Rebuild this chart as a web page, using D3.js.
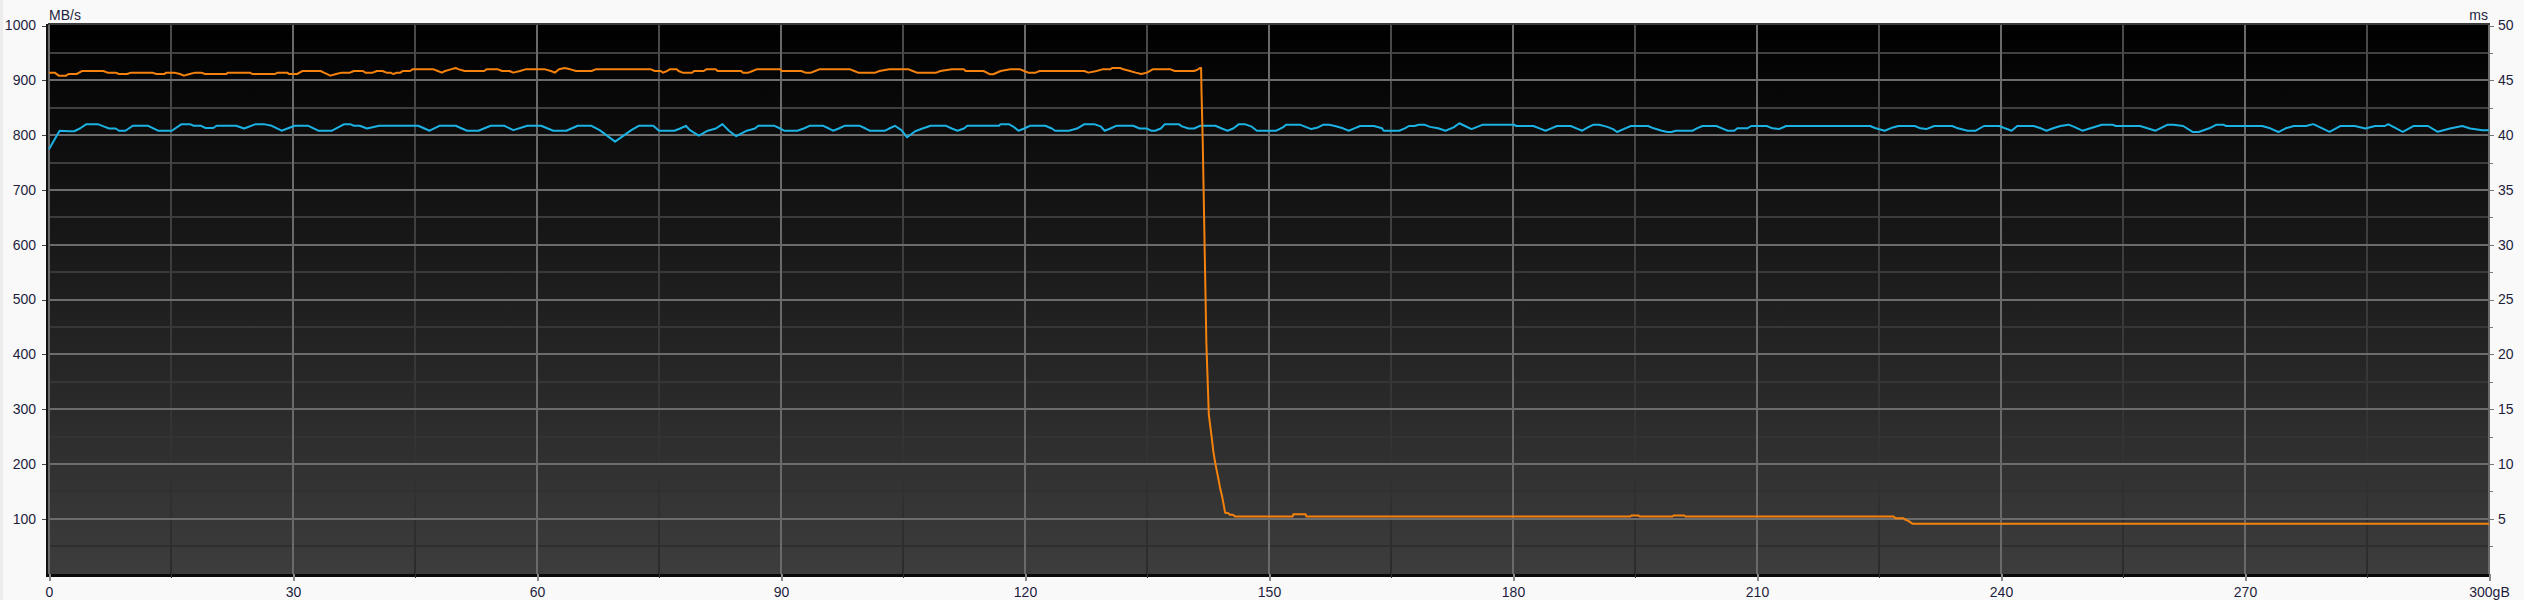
<!DOCTYPE html>
<html><head><meta charset="utf-8">
<script src="https://cdn.jsdelivr.net/npm/d3@7"></script>
<style>
html,body{margin:0;padding:0;background:#f9f9f9;}
svg{display:block;}
text{font-family:"Liberation Sans",Arial,sans-serif;font-size:14px;fill:#1e1e3e;}
</style></head>
<body>
<svg id="chart" width="2524" height="600"></svg>
<script>
// ---- data ----
const speedUnit = "MB/s";
const accessUnit = "ms";
const xTickValues = [0,30,60,90,120,150,180,210,240,270,300];
const xTickLabels = ["0","30","60","90","120","150","180","210","240","270","300gB"];
const leftTickValues = [100,200,300,400,500,600,700,800,900,1000];
const rightTickValues = [5,10,15,20,25,30,35,40,45,50];

// transfer rate (MB/s, left axis) vs position (gB)
const speedGB = [0,0.7,1.2,2.1,2.4,3.4,4.1,6.7,7.2,8.2,8.6,9.6,10.1,12.7,13.2,14.2,14.4,15.4,16.1,16.6,17.3,18.0,18.7,19.2,21.8,22.0,24.7,25.0,27.8,28.1,29.3,29.5,30.5,31.2,33.4,33.8,34.6,35.3,36.0,37.0,37.5,38.6,38.9,39.8,40.3,41.0,41.5,42.0,42.3,42.8,43.2,43.5,44.4,44.7,47.3,47.8,48.3,48.7,49.4,50.0,50.4,51.1,53.5,53.8,55.2,55.7,56.6,57.1,57.9,58.6,61.0,61.7,62.2,62.7,63.4,64.1,64.8,66.7,67.2,74.0,74.5,75.2,75.5,76.0,76.3,77.2,77.4,77.9,79.1,79.3,80.5,80.8,82.0,82.2,85.1,85.3,86.0,86.5,87.0,89.9,90.1,92.5,93.0,93.7,94.2,94.7,98.5,99.0,99.5,101.6,102.1,103.3,105.7,106.2,106.7,109.1,109.6,111.0,112.5,112.7,114.9,115.3,115.7,116.1,117.0,118.2,119.4,119.9,120.4,121.3,121.8,127.3,127.8,128.8,129.5,130.5,130.7,131.7,132.1,132.9,133.6,134.3,135.0,135.7,137.9,138.4,140.8,141.3,141.5,141.65,141.7,141.85,142.3,142.6,143.0,143.16,143.4,143.6,143.8,144.0,144.2,144.4,144.6,145.0,145.2,145.6,145.8,152.9,153.0,154.5,154.6,194.4,194.6,195.4,195.6,199.6,199.8,201.0,201.2,226.8,227.0,228.0,228.2,228.6,229.1,300];
const speedMBs = [914,914,908.5,908.5,911.5,911.5,917,917,914,914,911.5,911.5,914,914,911.5,911.5,914,914,911.5,908.5,911.5,914,914,911.5,911.5,914,914,911.5,911.5,914,914,911.5,911.5,917,917,914,908.5,911.5,914,914,917,917,914,914,917,917,914,914,911.5,914,914,917,917,920,920,917,914,917,920,922.5,920,917,917,920,920,917,917,914,917,920,920,917,914,920,922.5,920,917,917,920,920,917,917,914,917,920,920,917,914,914,917,917,920,920,917,917,914,914,917,920,920,917,917,914,914,917,920,920,917,914,914,917,920,920,917,914,914,917,920,920,917,917,914,911,911,917,920,920,917,914,914,917,917,914,917,920,920,922.5,922.5,920,917,914,911.5,914,920,920,917,917,920,922.5,922.5,880,790,420,290,243,222,201,186,171,155,143,128,111,110,107,107,104,104,108,108,104,104,106,106,104,104,106,106,104,104,101,101,98.5,96,91,91];

// access time (ms, right axis) vs position (gB)
const accessGB = [0,1.3,2.5,3.1,3.8,4.6,6.0,6.7,7.4,8.2,8.6,9.4,10.3,12.2,13.4,15.1,16.3,17.3,17.8,18.7,19.2,20.2,20.6,23.0,24.0,25.4,26.4,27.4,28.6,30.2,31.9,33.1,34.8,36.3,37.0,37.5,38.2,39.1,40.6,45.4,46.8,48.0,50.0,51.4,52.8,54.3,56.0,57.1,58.8,60.5,62.0,63.6,65.0,66.7,67.7,69.6,71.6,72.5,74.3,75.0,76.9,77.6,78.3,78.8,79.9,81.0,82.0,82.8,83.6,84.5,85.8,86.8,87.2,89.2,89.9,90.4,92.0,92.8,93.5,95.2,95.9,96.4,97.1,97.8,99.7,100.4,100.9,102.8,103.3,104.0,104.8,105.5,106.5,107.4,108.4,110.3,111.0,111.7,112.5,112.9,116.8,117.0,118.0,118.5,119.2,119.9,120.6,122.5,123.3,123.7,125.4,126.4,127.3,128.5,129.3,129.8,130.5,131.2,133.3,134.1,135.0,135.5,136.0,136.7,137.2,138.9,139.3,140.1,140.8,141.5,143.4,144.2,144.9,145.6,146.3,147.0,147.8,148.5,150.9,151.7,152.1,153.8,154.5,155.2,156.0,156.7,157.4,158.1,159.1,159.8,160.5,161.2,162.9,163.9,164.1,166.0,166.7,167.2,167.9,168.4,169.1,169.8,170.8,171.7,172.7,173.4,174.1,174.9,175.6,176.3,180.1,180.4,182.5,183.5,184.0,184.7,185.4,187.1,187.8,188.5,189.2,189.9,190.6,191.6,192.3,192.8,193.8,194.5,196.6,197.3,198.3,199.0,199.5,200.0,202.1,202.6,203.3,205.0,205.7,206.4,207.2,207.6,208.8,209.3,211.2,211.9,212.7,213.6,223.9,224.5,225.7,226.7,227.4,229.4,230.1,230.8,231.8,234.0,234.7,235.9,236.9,237.9,239.8,240.5,241.3,242.0,244.0,244.9,245.6,246.4,247.3,248.3,249.0,250.0,251.0,252.4,253.7,254.1,257.1,258.0,259.0,260.5,261.2,262.4,263.6,264.3,265.6,266.5,267.3,267.7,272.1,273.1,274.1,275.0,276.0,277.5,278.4,280.4,281.7,283.5,284.8,286.0,287.2,287.6,289.4,290.7,292.5,293.7,295.2,296.7,297.7,299.2,300];
const accessMs = [38.7,40.4,40.35,40.35,40.6,41.0,41.0,40.8,40.6,40.6,40.4,40.4,40.85,40.85,40.4,40.4,41.0,41.0,40.85,40.85,40.65,40.65,40.85,40.85,40.6,41.0,41.0,40.85,40.4,40.85,40.85,40.4,40.4,41.0,41.0,40.85,40.85,40.6,40.85,40.85,40.4,40.85,40.85,40.4,40.4,40.85,40.85,40.45,40.85,40.85,40.4,40.4,40.85,40.85,40.45,39.4,40.45,40.85,40.85,40.4,40.4,40.6,40.85,40.45,39.95,40.4,40.6,41.0,40.4,39.9,40.4,40.6,40.85,40.85,40.6,40.4,40.4,40.6,40.85,40.85,40.6,40.4,40.6,40.85,40.85,40.6,40.4,40.4,40.6,40.85,40.45,39.8,40.35,40.6,40.85,40.85,40.6,40.4,40.6,40.85,40.85,41.0,41.0,40.8,40.4,40.6,40.85,40.85,40.6,40.4,40.4,40.6,41.0,41.0,40.8,40.4,40.6,40.85,40.85,40.6,40.6,40.4,40.4,40.6,41.0,41.0,40.8,40.6,40.6,40.85,40.85,40.6,40.4,40.6,41.0,41.0,40.8,40.4,40.4,40.7,40.95,40.95,40.75,40.55,40.7,40.95,40.95,40.83,40.62,40.4,40.62,40.83,40.83,40.62,40.4,40.4,40.62,40.83,40.83,40.95,40.95,40.75,40.62,40.4,40.7,41.08,40.83,40.55,40.75,40.95,40.95,40.83,40.83,40.55,40.4,40.62,40.83,40.83,40.62,40.4,40.7,40.95,40.95,40.75,40.55,40.28,40.62,40.83,40.83,40.62,40.4,40.28,40.28,40.4,40.4,40.62,40.83,40.83,40.62,40.4,40.4,40.62,40.62,40.83,40.83,40.62,40.55,40.83,40.83,40.65,40.4,40.7,40.83,40.83,40.62,40.55,40.83,40.83,40.62,40.4,40.4,40.83,40.83,40.62,40.4,40.83,40.83,40.62,40.4,40.62,40.83,40.95,40.75,40.4,40.62,40.95,40.95,40.83,40.83,40.62,40.4,40.95,40.95,40.83,40.28,40.28,40.62,40.95,40.95,40.83,40.83,40.62,40.28,40.62,40.83,40.83,41.0,40.3,40.83,40.83,40.6,40.83,40.83,41.0,40.3,40.83,40.83,40.3,40.6,40.83,40.6,40.45,40.45];

// ---- drawing ----
const svg = d3.select("#chart");
const PL = 48, PR = 2490, PT = 24, PB = 574;
const x = d3.scaleLinear().domain([0,300]).range([49,2489]);
const yL = d3.scaleLinear().domain([0,1000]).range([573.5,25.5]);
const yR = d3.scaleLinear().domain([0,50]).range([573.5,25.5]);

const defs = svg.append("defs");
const bg = defs.append("linearGradient").attr("id","bg").attr("x1",0).attr("y1",0).attr("x2",0).attr("y2",1);
bg.append("stop").attr("offset","0%").attr("stop-color","#000000");
bg.append("stop").attr("offset","100%").attr("stop-color","#3d3d3d");
const vg = defs.append("linearGradient").attr("id","vminor").attr("gradientUnits","userSpaceOnUse")
  .attr("x1",0).attr("y1",PT).attr("x2",0).attr("y2",PB);
vg.append("stop").attr("offset","0%").attr("stop-color","#4a4a4a");
vg.append("stop").attr("offset","100%").attr("stop-color","#2c2c2c");

svg.append("rect").attr("x",0).attr("y",0).attr("width",3).attr("height",600).attr("fill","#ececec");

svg.append("rect").attr("x",PL).attr("y",PT).attr("width",PR-PL).attr("height",PB-PT).attr("fill","url(#bg)");

const grid = svg.append("g").attr("shape-rendering","crispEdges");
const minorCol = d3.interpolateRgb("#424242","#2e2e2e");
// horizontal minor (every 50 MB/s)
const hMinor = d3.range(50,1000,100);
grid.selectAll(".hm").data(hMinor).enter().append("line")
  .attr("x1",PL).attr("x2",PR).attr("y1",d=>yL(d)).attr("y2",d=>yL(d))
  .attr("stroke",d=>minorCol((yL(d)-PT)/(PB-PT))).attr("stroke-width",2);
// vertical minor (every 15 gB)
const vMinor = d3.range(15,300,30);
grid.selectAll(".vm").data(vMinor).enter().append("line")
  .attr("x1",d=>x(d)).attr("x2",d=>x(d)).attr("y1",PT).attr("y2",PB)
  .attr("stroke","url(#vminor)").attr("stroke-width",2);
// horizontal major
grid.selectAll(".hM").data(leftTickValues.slice(0,-1)).enter().append("line")
  .attr("x1",PL).attr("x2",PR).attr("y1",d=>yL(d)).attr("y2",d=>yL(d))
  .attr("stroke","#6c6c6c").attr("stroke-width",2);
// vertical major
grid.selectAll(".vM").data(xTickValues).enter().append("line")
  .attr("x1",d=>x(d)).attr("x2",d=>x(d)).attr("y1",PT).attr("y2",PB)
  .attr("stroke","#6a6a6a").attr("stroke-width",2);

// frame
svg.append("line").attr("x1",PL).attr("x2",PR).attr("y1",PT).attr("y2",PT)
  .attr("stroke","#3a3a3a").attr("stroke-width",2).attr("shape-rendering","crispEdges");
svg.append("rect").attr("x",46).attr("y",PT).attr("width",2).attr("height",PB-PT+3).attr("fill","#111");
svg.append("rect").attr("x",46).attr("y",PB).attr("width",PR-46).attr("height",3).attr("fill","#0a0a0a");

// lines
const accessLine = d3.line().x(d=>x(d[0])).y(d=>yR(d[1]));
const speedLine = d3.line().x(d=>x(d[0])).y(d=>yL(d[1]));
svg.append("path").datum(d3.zip(accessGB,accessMs)).attr("d",accessLine)
  .attr("fill","none").attr("stroke","#1cb2e4").attr("stroke-width",2).attr("stroke-linejoin","round");
svg.append("path").datum(d3.zip(speedGB,speedMBs)).attr("d",speedLine)
  .attr("fill","none").attr("stroke","#f5820c").attr("stroke-width",2).attr("stroke-linejoin","round");

// axes
const left = d3.axisLeft(yL).tickValues(leftTickValues).tickSize(4).tickPadding(6).tickFormat(d3.format("d"));
const gL = svg.append("g").attr("transform",`translate(${PL-2},0)`).call(left);
const right = d3.axisRight(yR).tickValues(rightTickValues).tickSize(4).tickPadding(4).tickFormat(d3.format("d"));
const gR = svg.append("g").attr("transform",`translate(${PR},0)`).call(right);
const rightMinor = d3.axisRight(yR).tickValues(d3.range(2.5,50,5)).tickSize(3).tickFormat("");
const gRm = svg.append("g").attr("transform",`translate(${PR},0)`).call(rightMinor);
const bottom = d3.axisBottom(x).tickValues(xTickValues).tickSize(7).tickPadding(5).tickFormat((d,i)=>xTickLabels[i]);
const gB = svg.append("g").attr("transform",`translate(0,${PB})`).call(bottom);
const bottomMinor = d3.axisBottom(x).tickValues(vMinor).tickSize(4).tickFormat("");
const gBm = svg.append("g").attr("transform",`translate(0,${PB})`).call(bottomMinor);

[gL,gR,gRm,gB,gBm].forEach(g=>{
  g.select(".domain").remove();
  g.selectAll("text").attr("font-family",null).attr("font-size",null).attr("fill","#1e1e3e");
  g.attr("font-family",null).attr("font-size",null);
  g.selectAll("line").attr("shape-rendering","crispEdges");
});
gL.selectAll("line").attr("stroke","#444");
gR.selectAll("line").attr("stroke","#777");
gRm.selectAll("line").attr("stroke","#777");
gB.selectAll("line").attr("stroke","#888").attr("stroke-width",2);
gBm.selectAll("line").attr("stroke","#333");
gB.selectAll("text").attr("dy","0.75em");

svg.append("text").attr("x",49).attr("y",20).text(speedUnit);
svg.append("text").attr("x",2488).attr("y",20).attr("text-anchor","end").text(accessUnit);
</script>
</body></html>
